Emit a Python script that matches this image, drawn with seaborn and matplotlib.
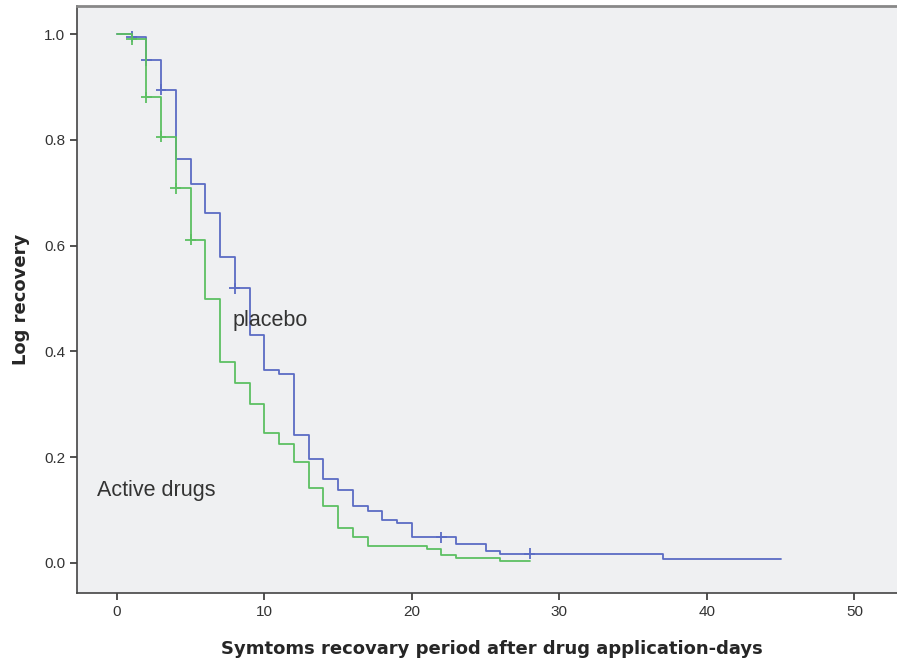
import pandas as pd
import numpy as np
import matplotlib
matplotlib.use("Agg")
import matplotlib.pyplot as plt
import seaborn as sns

# ------------ Data ---------------------------------
placebo_days = [0, 1, 2, 3, 4, 5, 6, 7, 8, 9, 10, 11, 12, 13, 14, 15, 16, 17, 18, 19, 20, 23, 25, 26, 37, 45]
placebo_surv = [1.0, 0.995, 0.950, 0.895, 0.764, 0.716, 0.661, 0.578, 0.519, 0.430, 0.364, 0.357, 0.242,
                0.197, 0.158, 0.137, 0.108, 0.099, 0.081, 0.076, 0.048, 0.036, 0.023, 0.017, 0.007, 0.007]

active_days = [0, 1, 2, 3, 4, 5, 6, 7, 8, 9, 10, 11, 12, 13, 14, 15, 16, 17, 21, 22, 23, 26, 28]
active_surv = [1.0, 0.990, 0.880, 0.806, 0.708, 0.611, 0.499, 0.379, 0.340, 0.301, 0.246, 0.224, 0.191,
               0.141, 0.108, 0.065, 0.049, 0.031, 0.026, 0.015, 0.009, 0.004, 0.004]

# censored observations
placebo_cens_days = [1, 2, 3, 8, 22, 28]
placebo_cens_surv = [0.995, 0.950, 0.895, 0.519, 0.048, 0.017]
active_cens_days = [1, 2, 3, 4, 5]
active_cens_surv = [0.990, 0.880, 0.806, 0.708, 0.611]

colors = {"placebo": "#5b6cc4", "Active drugs": "#5cc062"}

curves = pd.concat([
    pd.DataFrame({"days": placebo_days, "surv": placebo_surv, "group": "placebo"}),
    pd.DataFrame({"days": active_days, "surv": active_surv, "group": "Active drugs"}),
])
censored = pd.concat([
    pd.DataFrame({"days": placebo_cens_days, "surv": placebo_cens_surv, "group": "placebo"}),
    pd.DataFrame({"days": active_cens_days, "surv": active_cens_surv, "group": "Active drugs"}),
])

# ------------ Plot --------------
sns.set_style("ticks")
plt.rcParams["font.family"] = ["Liberation Sans", "DejaVu Sans"]

fig = plt.figure(figsize=(8.97, 6.64), dpi=100)
ax = fig.add_axes([77 / 897, 1 - 593 / 664, 1 - 77 / 897 + 0.01, (593 - 6) / 664])
ax.set_facecolor("#eff0f2")

sns.lineplot(data=curves, x="days", y="surv", hue="group", palette=colors,
             drawstyle="steps-post", estimator=None, sort=False,
             linewidth=1.3, legend=False, ax=ax)
sns.scatterplot(data=censored, x="days", y="surv", hue="group", palette=colors,
                marker="+", s=60, linewidth=1.3, legend=False, ax=ax)

ax.text(7.85, 0.459, "placebo", fontsize=15.5, color="#333333", va="center")
ax.text(-1.35, 0.136, "Active drugs", fontsize=15.5, color="#333333", va="center")

ax.set_xlim(-2.7, 53.5)
ax.set_ylim(-0.057, 1.053)
ax.set_xticks([0, 10, 20, 30, 40, 50])
ax.set_yticks([0.0, 0.2, 0.4, 0.6, 0.8, 1.0])
ax.set_yticklabels(["0.0", "0.2", "0.4", "0.6", "0.8", "1.0"])
ax.tick_params(labelsize=11, colors="#333333", length=5, width=1.2)

for side in ["left", "bottom", "top"]:
    ax.spines[side].set_visible(True)
    ax.spines[side].set_color("#444444")
    ax.spines[side].set_linewidth(1.2)
ax.spines["top"].set_color("#888888")
ax.spines["top"].set_linewidth(2)
ax.spines["right"].set_visible(False)

ax.set_xlabel("Symtoms recovary period after drug application-days",
              fontsize=13, fontweight="bold", family="DejaVu Sans", labelpad=15)
ax.set_ylabel("Log recovery", fontsize=13, fontweight="bold", family="DejaVu Sans", labelpad=10)

fig.savefig("out.png", dpi=100)
